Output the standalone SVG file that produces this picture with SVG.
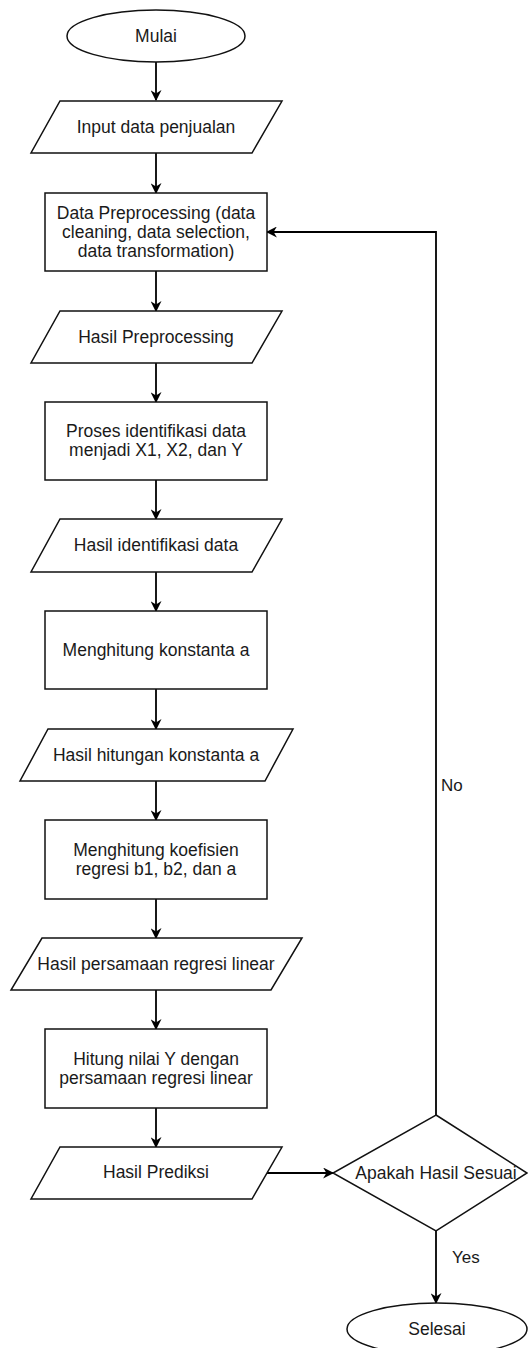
<svg xmlns="http://www.w3.org/2000/svg" width="528" height="1348" viewBox="0 0 528 1348">
<style>
.s{fill:#fff;stroke:#111;stroke-width:1.5}
.t{font-family:"Liberation Sans",Arial,sans-serif;font-size:17.5px;fill:#1a1a1a;text-anchor:middle;dominant-baseline:central}
.l{font-family:"Liberation Sans",Arial,sans-serif;font-size:17px;fill:#1a1a1a}
.c{fill:none;stroke:#000;stroke-width:1.8}
</style>
<defs>
<marker id="a" viewBox="0 0 10 10" refX="9" refY="5" markerWidth="11" markerHeight="11" markerUnits="userSpaceOnUse" orient="auto">
<path d="M0,0 L10,5 L0,10 L3,5 Z" fill="#000"/>
</marker>
</defs>
<rect width="528" height="1348" fill="#fff"/>
<g id="connectors">
<line class="c" x1="156" y1="62" x2="156" y2="100" marker-end="url(#a)"/>
<line class="c" x1="156" y1="153" x2="156" y2="193" marker-end="url(#a)"/>
<line class="c" x1="156" y1="271" x2="156" y2="311" marker-end="url(#a)"/>
<line class="c" x1="156" y1="363" x2="156" y2="402" marker-end="url(#a)"/>
<line class="c" x1="156" y1="480" x2="156" y2="519" marker-end="url(#a)"/>
<line class="c" x1="156" y1="572" x2="156" y2="611" marker-end="url(#a)"/>
<line class="c" x1="156" y1="689" x2="156" y2="729" marker-end="url(#a)"/>
<line class="c" x1="156" y1="781" x2="156" y2="820" marker-end="url(#a)"/>
<line class="c" x1="156" y1="899" x2="156" y2="938" marker-end="url(#a)"/>
<line class="c" x1="156" y1="990" x2="156" y2="1029" marker-end="url(#a)"/>
<line class="c" x1="156" y1="1108" x2="156" y2="1147" marker-end="url(#a)"/>
<line class="c" x1="267" y1="1173" x2="333" y2="1173" marker-end="url(#a)"/>
<polyline class="c" points="436,1115 436,232 267,232" marker-end="url(#a)"/>
<line class="c" x1="436" y1="1231" x2="436" y2="1303" marker-end="url(#a)"/>
<text class="l" x="441" y="791">No</text>
<text class="l" x="452" y="1263">Yes</text>
</g>
<g id="mulai">
<ellipse class="s" cx="156" cy="36" rx="89" ry="26"/>
<text class="t" x="156" y="36">Mulai</text>
</g>
<g id="input">
<polygon class="s" points="60,101 282,101 252,153 31,153"/>
<text class="t" x="156" y="127">Input data penjualan</text>
</g>
<g id="preprocessing">
<rect class="s" x="45" y="193" width="222" height="78"/>
<text class="t" x="156" y="213">Data Preprocessing (data</text>
<text class="t" x="156" y="232">cleaning, data selection,</text>
<text class="t" x="156" y="251">data transformation)</text>
</g>
<g id="hasil-preprocessing">
<polygon class="s" points="60,311 282,311 252,363 31,363"/>
<text class="t" x="156" y="337">Hasil Preprocessing</text>
</g>
<g id="identifikasi">
<rect class="s" x="45" y="402" width="222" height="78"/>
<text class="t" x="156" y="431">Proses identifikasi data</text>
<text class="t" x="156" y="450">menjadi X1, X2, dan Y</text>
</g>
<g id="hasil-identifikasi">
<polygon class="s" points="60,519 282,519 252,572 31,572"/>
<text class="t" x="156" y="545">Hasil identifikasi data</text>
</g>
<g id="konstanta">
<rect class="s" x="45" y="611" width="222" height="78"/>
<text class="t" x="156" y="650">Menghitung konstanta a</text>
</g>
<g id="hasil-konstanta">
<polygon class="s" points="48,729 293,729 265,781 20,781"/>
<text class="t" x="156" y="755">Hasil hitungan konstanta a</text>
</g>
<g id="koefisien">
<rect class="s" x="45" y="820" width="222" height="79"/>
<text class="t" x="156" y="850">Menghitung koefisien</text>
<text class="t" x="156" y="869">regresi b1, b2, dan a</text>
</g>
<g id="hasil-persamaan">
<polygon class="s" points="42,938 302,938 271,990 11,990"/>
<text class="t" x="156" y="964">Hasil persamaan regresi linear</text>
</g>
<g id="hitung-y">
<rect class="s" x="45" y="1029" width="222" height="79"/>
<text class="t" x="156" y="1059">Hitung nilai Y dengan</text>
<text class="t" x="156" y="1078">persamaan regresi linear</text>
</g>
<g id="hasil-prediksi">
<polygon class="s" points="60,1147 282,1147 252,1199 31,1199"/>
<text class="t" x="156" y="1172">Hasil Prediksi</text>
</g>
<g id="keputusan">
<polygon class="s" points="436,1115 527,1173 436,1231 333,1173"/>
<text class="t" x="436" y="1173">Apakah Hasil Sesuai</text>
</g>
<g id="selesai">
<ellipse class="s" cx="437" cy="1329" rx="90" ry="26"/>
<text class="t" x="437" y="1329">Selesai</text>
</g>
</svg>
